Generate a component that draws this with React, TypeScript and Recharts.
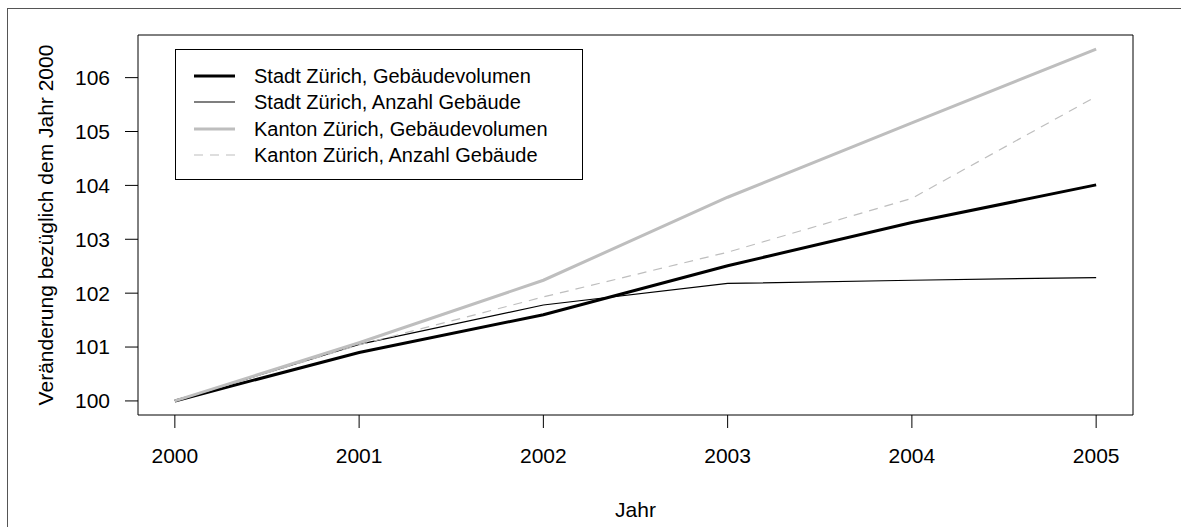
import React from "react";
import {
  LineChart,
  Line,
  XAxis,
  YAxis,
  ReferenceArea,
  Legend,
} from "recharts";

const years = [2000, 2001, 2002, 2003, 2004, 2005];
const stadtVolumen = [100, 100.9, 101.6, 102.51, 103.31, 104.01];
const stadtAnzahl = [100, 101.05, 101.78, 102.18, 102.24, 102.29];
const kantonVolumen = [100, 101.08, 102.24, 103.78, 105.16, 106.53];
const kantonAnzahl = [100, 101.04, 101.93, 102.76, 103.76, 105.65];

const yTicks = [100, 101, 102, 103, 104, 105, 106];

const seriesNames = [
  "Stadt Zürich, Gebäudevolumen",
  "Stadt Zürich, Anzahl Gebäude",
  "Kanton Zürich, Gebäudevolumen",
  "Kanton Zürich, Anzahl Gebäude",
];

const FONT = '"Liberation Sans", Arial, Helvetica, sans-serif';
const GRAY = "#bebebe";

const seriesStyles = [
  { key: "sv", color: "#000", width: 3, dash: undefined },
  { key: "sa", color: "#000", width: 1.2, dash: undefined },
  { key: "kv", color: GRAY, width: 3, dash: undefined },
  { key: "ka", color: GRAY, width: 1.2, dash: "9 7" },
];

const data = years.map((year, i) => ({
  year,
  sv: stadtVolumen[i],
  sa: stadtAnzahl[i],
  kv: kantonVolumen[i],
  ka: kantonAnzahl[i],
}));

// R style axis extension: 4% of the data range on each side
const allValues = [...stadtVolumen, ...stadtAnzahl, ...kantonVolumen, ...kantonAnzahl];
const yMinData = Math.min(...allValues);
const yMaxData = Math.max(...allValues);
const yPad = (yMaxData - yMinData) * 0.04;
const yDomain: [number, number] = [yMinData - yPad, yMaxData + yPad];
const xPad = (years[years.length - 1] - years[0]) * 0.04;
const xDomain: [number, number] = [years[0] - xPad, years[years.length - 1] + xPad];

function BoxLegend() {
  return (
    <div
      style={{
        width: 406,
        height: 116,
        border: "1px solid #000",
        background: "#fff",
        fontFamily: FONT,
        fontSize: 20,
        color: "#000",
        paddingTop: 13,
        boxSizing: "content-box",
      }}
    >
      {seriesNames.map((name, i) => {
        const s = seriesStyles[i];
        return (
          <div
            key={name}
            style={{ display: "flex", alignItems: "center", height: 26.3 }}
          >
            <svg width={78} height={20} style={{ flex: "none" }}>
              <line
                x1={18}
                x2={59}
                y1={10}
                y2={10}
                stroke={s.color}
                strokeWidth={s.width}
                strokeDasharray={s.dash}
              />
            </svg>
            <span style={{ whiteSpace: "nowrap", lineHeight: "26px" }}>{name}</span>
          </div>
        );
      })}
    </div>
  );
}

export default function App() {
  return (
    <div
      style={{
        position: "absolute",
        left: 0,
        top: 0,
        width: 1181,
        height: 527,
        background: "#fff",
        overflow: "hidden",
      }}
    >
      <div
        style={{
          position: "absolute",
          left: 7,
          top: 8,
          width: 1200,
          height: 600,
          borderLeft: "1px solid #555",
          borderTop: "1px solid #555",
        }}
      />
      <LineChart
        width={1181}
        height={527}
        data={data}
        margin={{ top: 35, right: 48, bottom: 0, left: 0 }}
        style={{ fontFamily: FONT }}
      >
        <XAxis
          dataKey="year"
          type="number"
          domain={xDomain}
          ticks={years}
          allowDataOverflow
          axisLine={false}
          tickLine={{ stroke: "#000", strokeWidth: 1 }}
          tickSize={13}
          tickMargin={20}
          height={112}
          tick={{ fill: "#000", fontSize: 21, fontFamily: FONT }}
          label={{
            content: ({ viewBox }: any) => (
              <text
                x={viewBox.x + viewBox.width / 2}
                y={viewBox.y + 94}
                textAnchor="middle"
                dominantBaseline="central"
                fill="#000"
                fontSize={21}
                fontFamily={FONT}
              >
                Jahr
              </text>
            ),
          }}
        />
        <YAxis
          type="number"
          domain={yDomain}
          ticks={yTicks}
          allowDataOverflow
          axisLine={false}
          tickLine={{ stroke: "#000", strokeWidth: 1 }}
          tickSize={13}
          tickMargin={15}
          width={138}
          tick={{ fill: "#000", fontSize: 21, fontFamily: FONT }}
          label={{
            content: ({ viewBox }: any) => {
              const cx = viewBox.x + 45;
              const cy = viewBox.y + viewBox.height / 2;
              return (
                <text
                  x={cx}
                  y={cy}
                  transform={`rotate(-90, ${cx}, ${cy})`}
                  textAnchor="middle"
                  dominantBaseline="central"
                  fill="#000"
                  fontSize={21}
                  fontFamily={FONT}
                >
                  Veränderung bezüglich dem Jahr 2000
                </text>
              );
            },
          }}
        />
        <ReferenceArea
          x1={xDomain[0]}
          x2={xDomain[1]}
          y1={yDomain[0]}
          y2={yDomain[1]}
          fill="none"
          stroke="#000"
          strokeWidth={1}
          fillOpacity={0}
          strokeOpacity={1}
          ifOverflow="extendDomain"
        />
        {seriesStyles.map((s, i) => (
          <Line
            key={s.key}
            type="linear"
            dataKey={s.key}
            name={seriesNames[i]}
            stroke={s.color}
            strokeWidth={s.width}
            strokeDasharray={s.dash}
            dot={false}
            activeDot={false}
            isAnimationActive={false}
          />
        ))}
        <Legend
          layout="vertical"
          align="center"
          verticalAlign="middle"
          content={() => <BoxLegend />}
          wrapperStyle={{ position: "absolute", left: 175, top: 49, width: 408 }}
        />
      </LineChart>
    </div>
  );
}
